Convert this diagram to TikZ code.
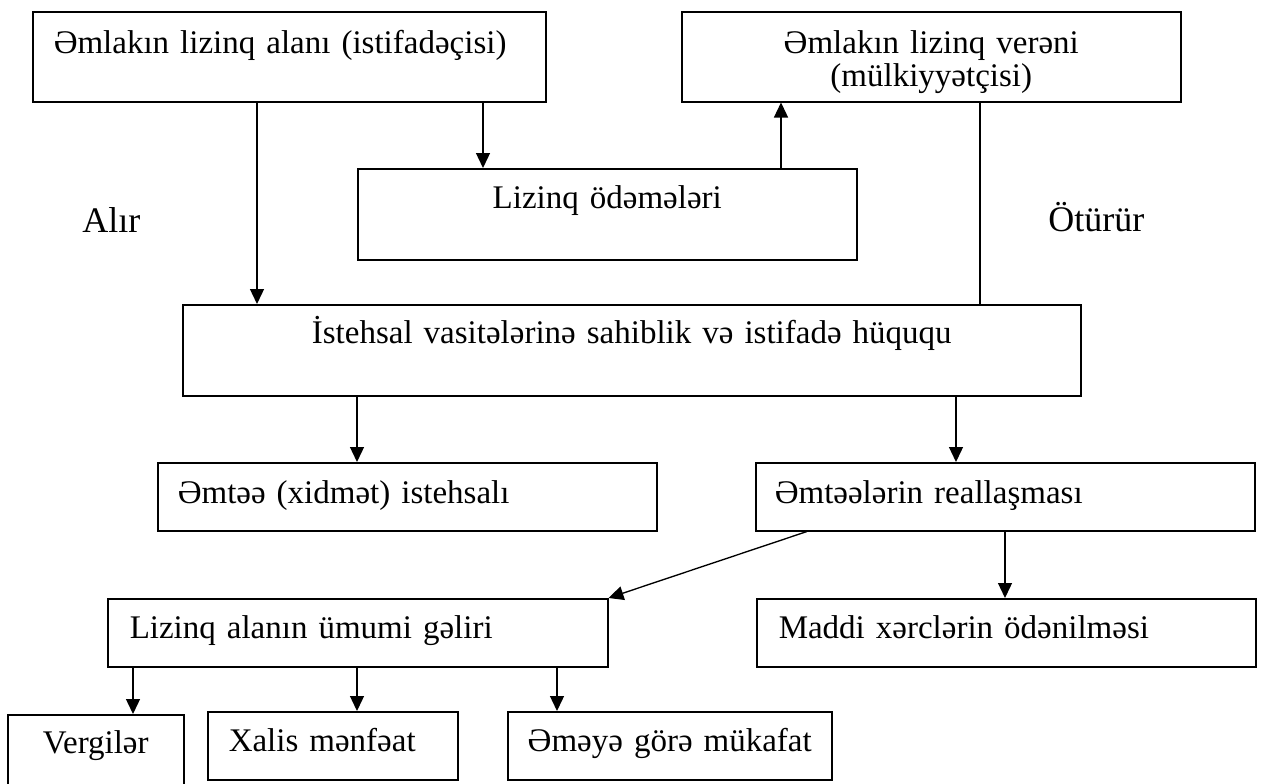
\documentclass[tikz,border=0pt]{standalone}
\usepackage{fontspec}
\setmainfont{Liberation Serif}
\usetikzlibrary{arrows.meta}
\newcommand\dgboxfont{\fontsize{19.8pt}{19.8pt}\selectfont}
\newcommand\dglabelfont{\fontsize{21.6pt}{21.6pt}\selectfont}
\begin{document}
\begin{tikzpicture}[x=0.6pt,y=-0.6pt,
  bx/.style={draw, line width=0.9pt, anchor=north west, inner ysep=0pt,
             font=\dgboxfont},
  cbox/.style={bx, inner xsep=0pt, align=center},
  lbox/.style={bx, align=left},
  arr/.style={line width=0.8pt, -{Triangle[length=9pt,width=8.4pt]}},
  plain/.style={line width=0.8pt},
  side/.style={anchor=base west, inner sep=0pt, font=\dglabelfont}]
\useasboundingbox (0,0) rectangle (1261,783);
\clip (0,0) rectangle (1261,783);

% boxes
\node[lbox, inner xsep=12.6pt, text width=282.6pt, text height=25.2pt, text depth=28.8pt]
  (lessee) at (32,11) {Əmlakın lizinq alanı (istifadəçisi)};
\node[cbox, text width=299.4pt, text height=25.2pt, text depth=28.8pt]
  (lessor) at (681,11) {Əmlakın lizinq verəni\\(mülkiyyətçisi)};
\node[cbox, text width=299.4pt, text height=24pt, text depth=30.6pt]
  (pay) at (357,168) {Lizinq ödəmələri};
\node[cbox, text width=538.8pt, text height=23.4pt, text depth=31.2pt]
  (right) at (182,304) {İstehsal vasitələrinə sahiblik və istifadə hüququ};
\node[lbox, inner xsep=12pt, text width=275.4pt, text height=24.6pt, text depth=16.2pt]
  (prod) at (157,462) {Əmtəə (xidmət) istehsalı};
\node[lbox, inner xsep=11.4pt, text width=276.6pt, text height=24.6pt, text depth=16.2pt]
  (sale) at (755,462) {Əmtəələrin reallaşması};
\node[lbox, inner xsep=13.2pt, text width=273.6pt, text height=24pt, text depth=16.8pt]
  (income) at (107,598) {Lizinq alanın ümumi gəliri};
\node[lbox, inner xsep=13.2pt, text width=273pt, text height=24pt, text depth=16.8pt]
  (costs) at (756,598) {Maddi xərclərin ödənilməsi};
\node[cbox, text width=105.6pt, text height=23.4pt, text depth=28.2pt]
  (tax) at (7,714) {Vergilər};
\node[lbox, inner xsep=12.6pt, text width=124.8pt, text height=24pt, text depth=16.8pt]
  (profit) at (207,711) {Xalis mənfəat};
\node[cbox, text width=194.4pt, text height=24pt, text depth=16.8pt]
  (wage) at (507,711) {Əməyə görə mükafat};

% side labels
\node[side] (takes) at (82,232) {Alır};
\node[side] (gives) at (1048,231) {Ötürür};

% connector columns
\coordinate (c1) at (257,0);
\coordinate (c2) at (483,0);
\coordinate (c3) at (781,0);
\coordinate (c4) at (980,0);
\coordinate (c5) at (357,0);
\coordinate (c6) at (956,0);
\coordinate (c7) at (807,0);
\coordinate (c8) at (1005,0);
\coordinate (c9) at (133,0);
\coordinate (c10) at (557,0);

% connectors
\draw[arr] (lessee.south -| c1) -- (right.north -| c1);
\draw[arr] (lessee.south -| c2) -- (pay.north -| c2);
\draw[arr] (pay.north -| c3) -- (lessor.south -| c3);
\draw[plain] (lessor.south -| c4) -- (right.north -| c4);
\draw[arr] (right.south -| c5) -- (prod.north -| c5);
\draw[arr] (right.south -| c6) -- (sale.north -| c6);
\draw[arr] (sale.south -| c7) -- (income.north east);
\draw[arr] (sale.south -| c8) -- (costs.north -| c8);
\draw[arr] (income.south -| c9) -- (tax.north -| c9);
\draw[arr] (income.south -| c5) -- (profit.north -| c5);
\draw[arr] (income.south -| c10) -- (wage.north -| c10);
\end{tikzpicture}
\end{document}
